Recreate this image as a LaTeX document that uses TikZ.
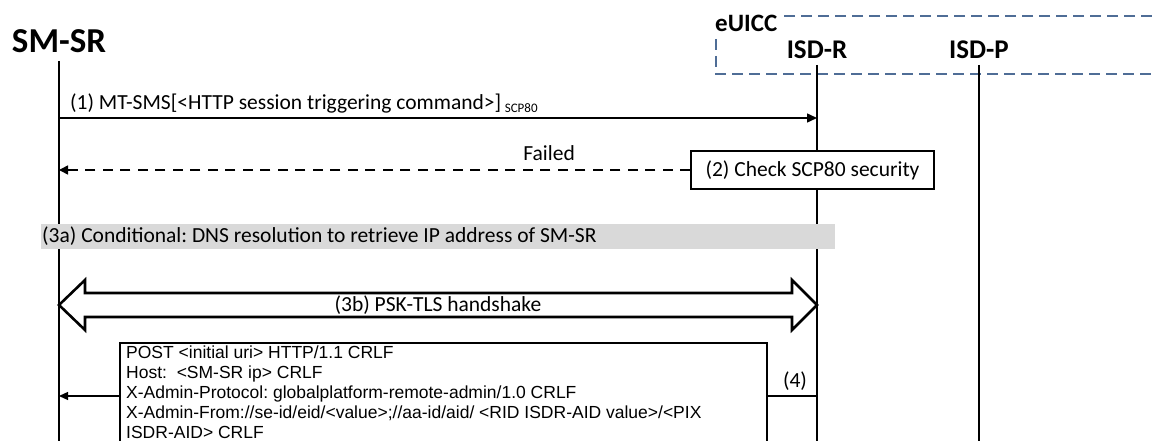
\documentclass[tikz,border=0pt]{standalone}
\usepackage{fontspec}
\setmainfont{Carlito}
\newfontfamily\arialf{Liberation Sans}
\usetikzlibrary{arrows.meta,calc}
\definecolor{euiccblue}{RGB}{79,109,150}
\definecolor{barGrey}{RGB}{217,217,217}
\frenchspacing
\tikzset{
  actor/.style={font=\bfseries\fontsize{35}{35}\selectfont, inner sep=0pt},
  subactor/.style={font=\bfseries\fontsize{27}{27}\selectfont, inner sep=0pt},
  life/.style={line width=1.3pt, black},
  msg/.style={line width=1.5pt, -{Triangle[length=10pt,width=9pt]}},
  retmsg/.style={line width=1.6pt, dash pattern=on 10pt off 7.5pt, -{Triangle[length=9pt,width=9pt]}},
  lbl/.style={font=\fontsize{21.5}{21.5}\selectfont, inner sep=0pt},
  procbox/.style={draw, line width=1.3pt, fill=white, font=\fontsize{21.5}{21.5}\selectfont, minimum width=243pt, minimum height=38pt, inner sep=0pt},
  bigarrow/.style={draw, line width=2.6pt, fill=white, line join=miter},
}
\begin{document}
\begin{tikzpicture}[x=1pt,y=-1pt]
\useasboundingbox (0,0) rectangle (1152,441);

% eUICC group
\draw[euiccblue, line width=1.5pt, dash pattern=on 11pt off 6pt] (1152,16) -- (716,16) -- (716,74) -- (1152,74);
\node[font=\bfseries\fontsize{25}{25}\selectfont, fill=white, inner xsep=2pt, inner ysep=4pt, anchor=west] (euicc) at (713,23) {eUICC};

% actors
\node[actor] (smsr) at (59,41) {SM-SR};
\node[subactor] (isdr) at (817,50) {ISD-R};
\node[subactor] (isdp) at (979,50) {ISD-P};

% lifelines
\coordinate (smsrTop) at (59,61);
\coordinate (smsrBot) at (59,441);
\coordinate (isdrTop) at (817,65);
\coordinate (isdrBot) at (817,441);
\coordinate (isdpTop) at (979,65);
\coordinate (isdpBot) at (979,441);
\draw[life] (smsrTop) -- (smsrBot);
\draw[life] (isdrTop) -- (isdrBot);
\draw[life] (isdpTop) -- (isdpBot);

% (1)
\coordinate (m1s) at (59,118);
\coordinate (m1e) at (817,118);
\draw[msg] (m1s) -- (m1e);
\node[lbl, anchor=base west] (m1lbl) at (70,110) {(1) MT-SMS[<HTTP session triggering command>]\,{\fontsize{13}{13}\selectfont\raisebox{-3pt}{SCP80}}};

% (2)
\node[procbox] (chk) at (812.5,170) {(2) Check SCP80 security};
\coordinate (m2e) at (59,170);
\draw[retmsg] (chk.west) -- (m2e);
\node[lbl, anchor=base east] (failed) at (575,161) {Failed};

% (3a)
\node[fill=barGrey, anchor=west, minimum height=25pt, minimum width=794pt, inner sep=0pt] (dns) at (41,236.5) {};
\node[lbl, anchor=west] (dnslbl) at ([xshift=1pt]dns.west) {(3a) Conditional: DNS resolution to retrieve IP address of SM-SR};

% (3b)
\coordinate (a3l) at (59,305);
\coordinate (a3r) at (817,305);
\draw[bigarrow] (a3l) -- ++(26,-25) -- ++(0,13) -- ($(a3r)+(-25,-12)$) -- ++(0,-13) -- (a3r) -- ++(-25,25) -- ++(0,-13) -- ($(a3l)+(26,12)$) -- ++(0,13) -- cycle;
\node[lbl] (tls) at (438,305) {(3b) PSK-TLS handshake};

% (4)
\draw[line width=1.3pt, fill=white] (120,450) -- (120,343) -- (767,343) -- (767,450);
\node[anchor=north west, inner sep=0pt, align=left, font=\arialf\fontsize{17.5}{19.9}\selectfont] (req) at (126,346)
{POST <initial uri> HTTP/1.1 CRLF\\
Host:\ \ <SM-SR ip> CRLF\\
X-Admin-Protocol: globalplatform-remote-admin/1.0 CRLF\\
X-Admin-From://se-id/eid/<value>;//aa-id/aid/ <RID ISDR-AID value>/<PIX\\
ISDR-AID> CRLF};
\coordinate (m4s) at (817,396);
\coordinate (m4r) at (767,396);
\coordinate (m4l) at (120,396);
\coordinate (m4e) at (59,396);
\draw[line width=1.3pt] (m4s) -- (m4r);
\draw[line width=1.3pt, -{Triangle[length=9pt,width=8pt]}] (m4l) -- (m4e);
\node[lbl] (m4lbl) at (795,381) {(4)};
\end{tikzpicture}
\end{document}
